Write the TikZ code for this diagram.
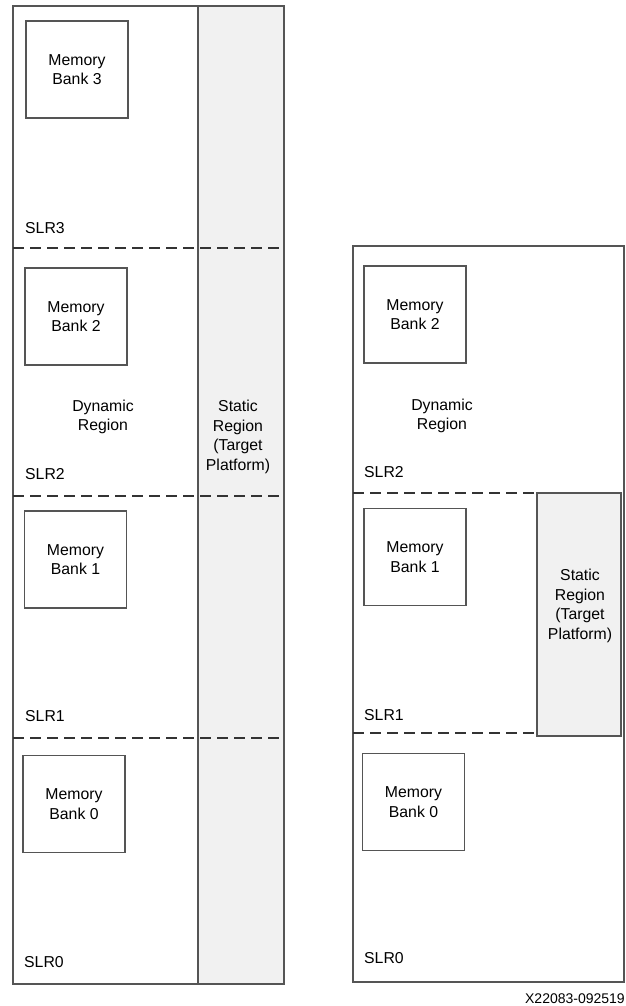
\documentclass[tikz,border=0pt]{standalone}
\usepackage{fontspec}
\setmainfont{Liberation Sans}
\usetikzlibrary{positioning}
\definecolor{slrEdge}{HTML}{555555}
\definecolor{slrDash}{HTML}{333333}
\definecolor{slrStatic}{HTML}{F1F1F1}
\tikzset{
  die/.style={draw=slrEdge, line width=1.4pt},
  staticbox/.style={die, fill=slrStatic},
  membank/.style={rectangle, draw=slrEdge, line width=1.1pt, minimum width=102pt,
                  minimum height=97pt, align=center, font=\fontsize{15.8}{19.5}\selectfont},
  slrtag/.style={anchor=west, inner sep=0pt, font=\fontsize{15.8}{19.5}\selectfont},
  regiontext/.style={align=center, inner sep=0pt, font=\fontsize{15.8}{19.5}\selectfont},
  slrcut/.style={draw=slrDash, line width=1.3pt, dash pattern=on 11pt off 6pt},
}

\begin{document}
\begin{tikzpicture}[x=1pt, y=-1pt]
  \useasboundingbox (0,0) rectangle (626,1006);

  % left device: static region spans all SLRs
  \draw[staticbox] (198,6) rectangle (284,984);
  \draw[die] (13,6) rectangle (284,984);
  \foreach \y in {248,496,738}
    \draw[slrcut] (13,\y) -- (282,\y);

  \node[membank] (lbank3) at (77,69.5) {Memory\\Bank 3};
  \node[membank] (lbank2) at (76,316.5) {Memory\\Bank 2};
  \node[membank] (lbank1) at (75.5,559.5) {Memory\\Bank 1};
  \node[membank] (lbank0) at (74,804) {Memory\\Bank 0};

  \node[slrtag] (lslr3) at (25,228) {SLR3};
  \node[slrtag] (lslr2) at (25,474) {SLR2};
  \node[slrtag] (lslr1) at (25,716) {SLR1};
  \node[slrtag] (lslr0) at (24,962) {SLR0};

  \node[regiontext] (ldyn) at (103,417) {Dynamic\\Region};
  \node[regiontext] (lstatic) at (238,437) {Static\\Region\\(Target\\Platform)};

  % right device: static region only in SLR1
  \draw[die] (353,246) rectangle (624,982);
  \foreach \y in {493,733}
    \draw[slrcut] (353,\y) -- (622,\y);
  \draw[staticbox] (537,493) rectangle (621,736);

  \node[membank] (rbank2) at (415,314.5) {Memory\\Bank 2};
  \node[membank] (rbank1) at (415,557) {Memory\\Bank 1};
  \node[membank] (rbank0) at (413.5,802) {Memory\\Bank 0};

  \node[slrtag] (rslr2) at (364,472) {SLR2};
  \node[slrtag] (rslr1) at (364,715) {SLR1};
  \node[slrtag] (rslr0) at (364,958) {SLR0};

  \node[regiontext] (rdyn) at (442,416) {Dynamic\\Region};
  \node[regiontext] (rstatic) at (580,606) {Static\\Region\\(Target\\Platform)};

  \node[anchor=east, inner sep=0pt, font=\fontsize{14}{16}\selectfont] (figid) at (625,999) {X22083-092519};
\end{tikzpicture}
\end{document}
